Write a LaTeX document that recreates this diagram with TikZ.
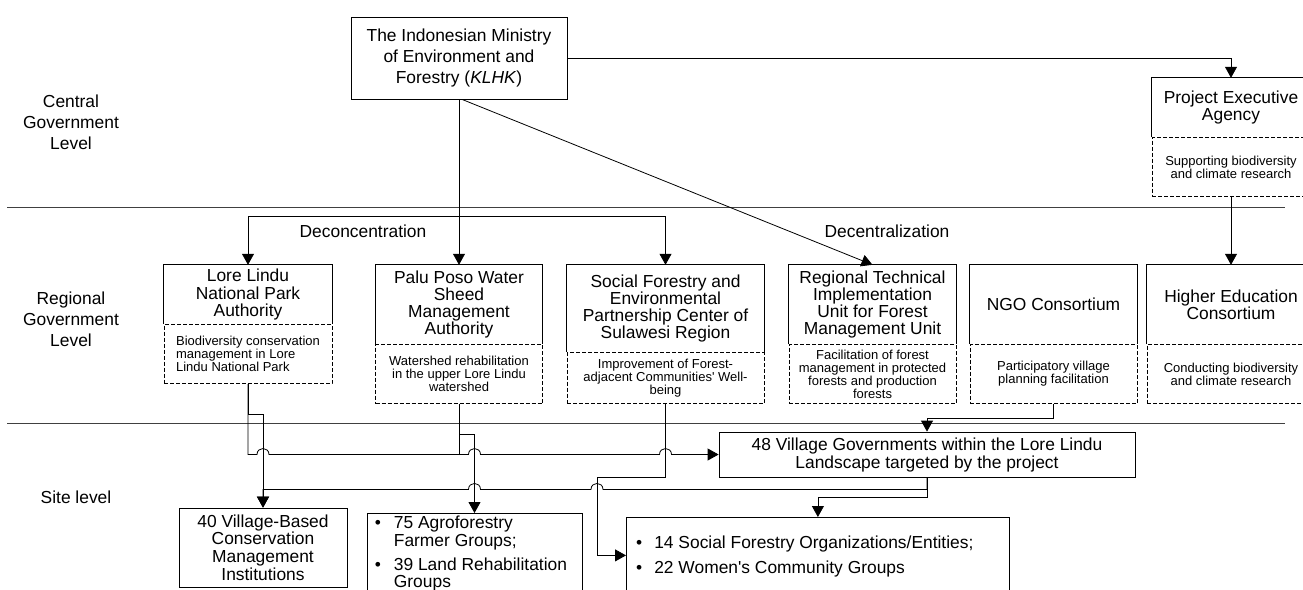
\documentclass[tikz,border=0pt]{standalone}
\usepackage{fontspec}
\setmainfont{Liberation Sans}
\usepackage{tikz}
\usetikzlibrary{arrows.meta,positioning,calc}
\newcommand{\headfont}{\fontsize{17.4}{17.3}\selectfont}
\newcommand{\dutyfont}{\fontsize{13}{13}\selectfont}
\newcommand{\levelfont}{\fontsize{17.4}{21}\selectfont}
\newcommand{\sitefont}{\fontsize{17.4}{17.7}\selectfont}
\newcommand{\hop}[1]{-- ([xshift=-6pt]#1) .. controls +(0,-8) and +(0,-8) .. ([xshift=6pt]#1)}
\newcommand{\hopback}[1]{-- ([xshift=6pt]#1) .. controls +(0,-8) and +(0,-8) .. ([xshift=-6pt]#1)}

\begin{document}
\begin{tikzpicture}[x=1pt, y=-1pt,
  head/.style={inner sep=0pt, align=center, font=\headfont, minimum width=167pt, minimum height=79pt},
  duty/.style={draw, dash pattern=on 4pt off 2pt, line width=0.8pt, fill=white, inner sep=0pt, align=center, font=\dutyfont, minimum width=167pt, minimum height=59pt},
  box/.style={draw, line width=0.8pt, inner sep=0pt, align=center, font=\sitefont},
  level/.style={align=center, font=\levelfont},
  arr/.style={-{Triangle[length=11pt,width=12pt]}, line width=0.8pt},
  link/.style={line width=0.8pt},
  sep/.style={line width=0.9pt, black!75}
]
\fill[white] (0,0) rectangle (1303,589);
\useasboundingbox (0,0) rectangle (1303,589);

% levels
\node[level] (central) at (71,122) {Central\\Government\\Level};
\node[level] (regional) at (71,319) {Regional\\Government\\Level};
\node[level] (site) at (76,497) {Site level};
\draw[sep] (7,207) -- (1285,207);
\draw[sep] (7,423) -- (1285,423);

% central
\node[box, font=\levelfont, minimum width=216pt, minimum height=82pt] (min) at (459,58) {The Indonesian Ministry\\of Environment and\\Forestry (\textit{KLHK})};
\node[head, minimum width=158pt, minimum height=59pt] (pea) at (1231,107.5) {Project Executive\\Agency};
\node[duty, below=0pt of pea, minimum width=158pt] (pead) {Supporting biodiversity\\and climate research};

% regional
\node[head, minimum width=168pt, minimum height=59pt] (lore) at (248,294.5) {Lore Lindu\\National Park\\Authority};
\node[duty, below=0pt of lore, minimum width=168pt, align=left] (lored) {Biodiversity conservation\\management in Lore\\Lindu National Park};
\node[head] (palu) at (459,304.5) {Palu Poso Water\\Sheed\\Management\\Authority};
\node[duty, below=0pt of palu] (palud) {Watershed rehabilitation\\in the upper Lore Lindu\\watershed};
\node[head, minimum width=197pt, minimum height=87pt] (sfc) at (665.5,308.5) {Social Forestry and\\Environmental\\Partnership Center of\\Sulawesi Region};
\node[duty, below=0pt of sfc, minimum width=197pt, minimum height=51pt] (sfcd) {Improvement of Forest-\\adjacent Communities\textquotesingle{} Well-\\being};
\node[head] (uptd) at (872.5,304.5) {Regional Technical\\Implementation\\Unit for Forest\\Management Unit};
\node[duty, below=0pt of uptd] (uptdd) {Facilitation of forest\\management in protected\\forests and production\\forests};
\node[head] (ngo) at (1053.5,304.5) {NGO Consortium};
\node[duty, below=0pt of ngo] (ngod) {Participatory village\\planning facilitation};
\node[head, minimum width=168pt] (univ) at (1231,304.5) {Higher Education\\Consortium};
\node[duty, below=0pt of univ, minimum width=168pt] (univd) {Conducting biodiversity\\and climate research};
\foreach \n in {lore,palu,sfc,uptd,ngo,univ,pea}
  \draw[link] (\n.south west) |- (\n.north east) -- (\n.south east);

% site
\node[box, font=\fontsize{17.4}{18}\selectfont, minimum width=416pt, minimum height=45pt] (vil) at (927,454.5) {48 Village Governments within the Lore Lindu\\Landscape targeted by the project};
\node[box, minimum width=168pt, minimum height=79pt] (vcmi) at (263,547.5) {40 Village-Based\\Conservation\\Management\\Institutions};
\node[box, minimum width=215pt, minimum height=90pt, anchor=north] (agro) at (474.5,513) {};
\node[anchor=north west, inner sep=0pt, font=\sitefont] (agrotxt) at ([xshift=8pt,yshift=-2.6pt]agro.north west) {%
  \begin{tabular}{@{}l@{\hspace{13pt}}l@{}}
  \textbullet & 75 Agroforestry\\ & Farmer Groups;\\[6pt]
  \textbullet & 39 Land Rehabilitation\\ & Groups
  \end{tabular}};
\node[box, minimum width=383pt, minimum height=76pt, anchor=north west] (sfo) at (626,517) {};
\node[anchor=north west, inner sep=0pt, font=\sitefont] (sfotxt) at ([xshift=10pt,yshift=-18.6pt]sfo.north west) {%
  \begin{tabular}{@{}l@{\hspace{12pt}}l@{}}
  \textbullet & 14 Social Forestry Organizations/Entities;\\[7.3pt]
  \textbullet & 22 Women\textquotesingle{}s Community Groups
  \end{tabular}};

% central -> regional
\coordinate (dec) at (459,216);
\draw[arr] (min) -- (palu);
\draw[arr] (dec) -| (lore);
\draw[arr] (dec) -| (sfc);
\draw[arr] ([xshift=3pt]min.south) -- (uptd.north);
\draw[arr] (min.east) -| (pea.north);
\draw[arr] (pead.south) -- (univ.north);
\node[level] (deconc) at (363,231) {Deconcentration};
\node[level] (decent) at (887,231) {Decentralization};

% regional -> site
\coordinate (sfj) at ([xshift=-29pt]sfo.west);
\coordinate (r3) at ([yshift=-12pt]vil.south);
\draw[arr] (ngod.south) -- ++(0,14) -| (vil.north);
\draw[arr] (lored.south) -- ++(0,30) -| (vcmi.north);
\draw[arr] (lored.south) -- (lored.south |- vil.west) \hop{vcmi.north |- vil.west} \hop{agro.north |- vil.west} \hop{sfcd.south |- vil.west} -- (vil.west);
\draw[arr] (palud.south) -- ++(0,30) -| (agro.north);
\draw[link] (palud.south) -- (palud.south |- vil.west);
\draw[arr] (sfcd.south) |- (sfj |- vil.south) -- (sfj) -- (sfo.west);
\draw[arr] (vil.south) -- (r3) \hopback{sfj |- r3} \hopback{agro.north |- r3} -| (vcmi.north);
\draw[arr] (vil.south) -- ++(0,20) -| (sfo.north);
\end{tikzpicture}
\end{document}
